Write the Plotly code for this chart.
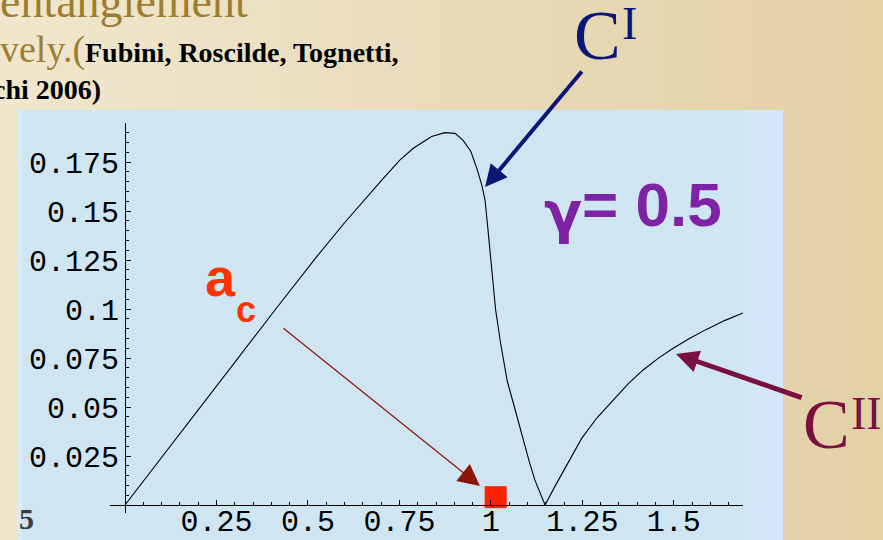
import numpy as np
import plotly.graph_objects as go

W, H = 883, 540

# Concurrence curve vs. anisotropy parameter (gamma = 0.5)
field = [0, 0.15, 0.30, 0.41, 0.478, 0.524, 0.60, 0.66, 0.70, 0.751, 0.788, 0.838,
         0.874, 0.902, 0.924, 0.945, 0.962, 0.975, 0.984, 0.993, 1.004, 1.013, 1.027,
         1.045, 1.065, 1.088, 1.105, 1.12, 1.135, 1.148, 1.175, 1.20, 1.248, 1.29,
         1.334, 1.375, 1.416, 1.46, 1.498, 1.545, 1.589, 1.64, 1.689]
concurrence = [0, 0.0367, 0.0728, 0.0995, 0.1158, 0.1267, 0.1440, 0.157, 0.1654, 0.176,
               0.182, 0.188, 0.190, 0.1896, 0.186, 0.1805, 0.1715, 0.1633, 0.1556, 0.1386,
               0.1165, 0.0995, 0.082, 0.063, 0.0495, 0.0332, 0.022, 0.0128, 0.006, 0.0,
               0.0095, 0.018, 0.034, 0.0445, 0.0536, 0.0618, 0.0689, 0.0752, 0.080, 0.0852,
               0.0896, 0.0942, 0.098]

# critical point marker
ac_x = [1.013]
ac_y = [0.004]

x_ticks = [0.25, 0.5, 0.75, 1, 1.25, 1.5]
x_ticktext = ["0.25", "0.5", "0.75", "1", "1.25", "1.5"]
y_ticks = [0.025, 0.05, 0.075, 0.1, 0.125, 0.15, 0.175]
y_ticktext = ["0.025", "0.05", "0.075", "0.1", "0.125", "0.15", "0.175"]


def px(x):
    return x / W


def py(y):
    return 1 - y / H


fig = go.Figure()
fig.add_trace(go.Scatter(x=field, y=concurrence, mode="lines",
                         line=dict(color="black", width=1.1), hoverinfo="skip"))
fig.add_trace(go.Scatter(x=ac_x, y=ac_y, mode="markers",
                         marker=dict(symbol="square", size=22, color="#ff2200",
                                     line=dict(width=0)), hoverinfo="skip"))

shapes = []
# warm paper background, slightly darker to the right
c0 = np.array([0xf0, 0xe7, 0xce])
c1 = np.array([0xe3, 0xd1, 0xa7])
n_bands = 40
for i in range(n_bands):
    t = i / (n_bands - 1)
    c = (c0 * (1 - t) + c1 * t).astype(int)
    shapes.append(dict(type="rect", xref="paper", yref="paper", layer="below",
                       x0=i / n_bands, x1=(i + 1) / n_bands + 0.002, y0=0, y1=1,
                       fillcolor="rgb(%d,%d,%d)" % tuple(c), line=dict(width=0)))
# light-blue plot panel
shapes.append(dict(type="rect", xref="paper", yref="paper", layer="below",
                   x0=px(18), x1=px(743), y0=0, y1=py(110),
                   fillcolor="#cfe6f2", line=dict(width=0)))
shapes.append(dict(type="rect", xref="paper", yref="paper", layer="below",
                   x0=px(743), x1=px(783), y0=0, y1=py(110),
                   fillcolor="#d3e7f9", line=dict(width=0)))
shapes.append(dict(type="rect", xref="paper", yref="paper", layer="below",
                   x0=px(18), x1=px(22), y0=0, y1=py(110),
                   fillcolor="#d8ebf8", line=dict(width=0)))

gold = "#9e7d2e"
navy = "#0c1675"
maroon = "#7a1040"
purple = "#7d23a3"
serif = "Liberation Serif"
sans = "Liberation Sans"

ann = []


def text(s, x, y, size, color, family, xanchor="center", yanchor="middle"):
    ann.append(dict(text=s, x=px(x), y=py(y), xref="paper", yref="paper",
                    xanchor=xanchor, yanchor=yanchor, showarrow=False,
                    font=dict(size=size, color=color, family=family)))


# slide text around the plot
text("entanglement", 250, 1, 46, gold, serif, xanchor="right")
text("vely.(", -2, 50, 38, gold, serif, xanchor="left")
text("<b>Fubini, Roscilde, Tognetti,</b>", 83, 53, 28, "black", serif, xanchor="left")
text("<b>chi 2006)</b>", 103, 90, 28, "black", serif, xanchor="right")
text("<b>5</b>", 36, 518, 30, "#3c3c3c", serif, xanchor="right")

# curve labels
text("C", 597, 36, 70, navy, serif)
text("I", 629, 24, 46, navy, serif)
text("C", 826, 424, 70, maroon, serif)
text("II", 866, 413, 46, maroon, serif)
text("<b>γ</b>", 563, 212, 56, purple, "DejaVu Sans")
text("<b>= 0.5</b>", 580, 204, 62, purple, sans, xanchor="left")
text("<b>a</b>", 220, 277, 54, "#ff3300", sans)
text("<b>c</b>", 246, 309, 36, "#ff3300", sans)

# arrows: (tip x, tip y) in data units, tail offset in pixels
arrows = [
    dict(x=0.984, y=0.1622, ax=98, ay=-117, color=navy, width=4, size=1.1),
    dict(x=0.970, y=0.0097, ax=-198, ay=-159, color="#8e1405", width=1.2, size=3.6),
    dict(x=1.506, y=0.077, ax=127, ay=44, color=maroon, width=5, size=0.9),
]
for a in arrows:
    ann.append(dict(text="", x=a["x"], y=a["y"], xref="x", yref="y",
                    ax=a["ax"], ay=a["ay"], showarrow=True, arrowhead=2,
                    arrowwidth=a["width"], arrowsize=a["size"],
                    arrowcolor=a["color"], standoff=0, startstandoff=0))

tickfont = dict(family="Liberation Mono", size=30, color="black")

fig.update_layout(
    width=W, height=H,
    margin=dict(l=0, r=0, t=0, b=0, autoexpand=False),
    paper_bgcolor="#ece0c2",
    plot_bgcolor="rgba(0,0,0,0)",
    showlegend=False,
    shapes=shapes,
    annotations=ann,
    xaxis=dict(domain=[px(110), px(743)], range=[-0.041, 1.689],
               anchor="free", position=py(505), automargin=False,
               showline=True, linecolor="black", linewidth=1,
               showgrid=False, zeroline=False,
               tickmode="array", tickvals=x_ticks, ticktext=x_ticktext,
               ticks="inside", ticklen=5, tickcolor="black", tickwidth=1,
               ticklabelstandoff=-11,
               minor=dict(tickmode="linear", tick0=0, dtick=0.05, ticks="inside",
                          ticklen=3, tickcolor="black", tickwidth=1),
               tickfont=tickfont, fixedrange=True),
    yaxis=dict(domain=[1 - 513 / H, 1 - 123 / H], range=[-0.00408, 0.1949],
               anchor="free", position=px(125), automargin=False,
               showline=True, linecolor="black", linewidth=1,
               showgrid=False, zeroline=False,
               tickmode="array", tickvals=y_ticks, ticktext=y_ticktext,
               ticks="inside", ticklen=5, tickcolor="black", tickwidth=1,
               minor=dict(tickmode="linear", tick0=0, dtick=0.005, ticks="inside",
                          ticklen=3, tickcolor="black", tickwidth=1),
               tickfont=tickfont, fixedrange=True),
)

fig.write_html("out.html")
